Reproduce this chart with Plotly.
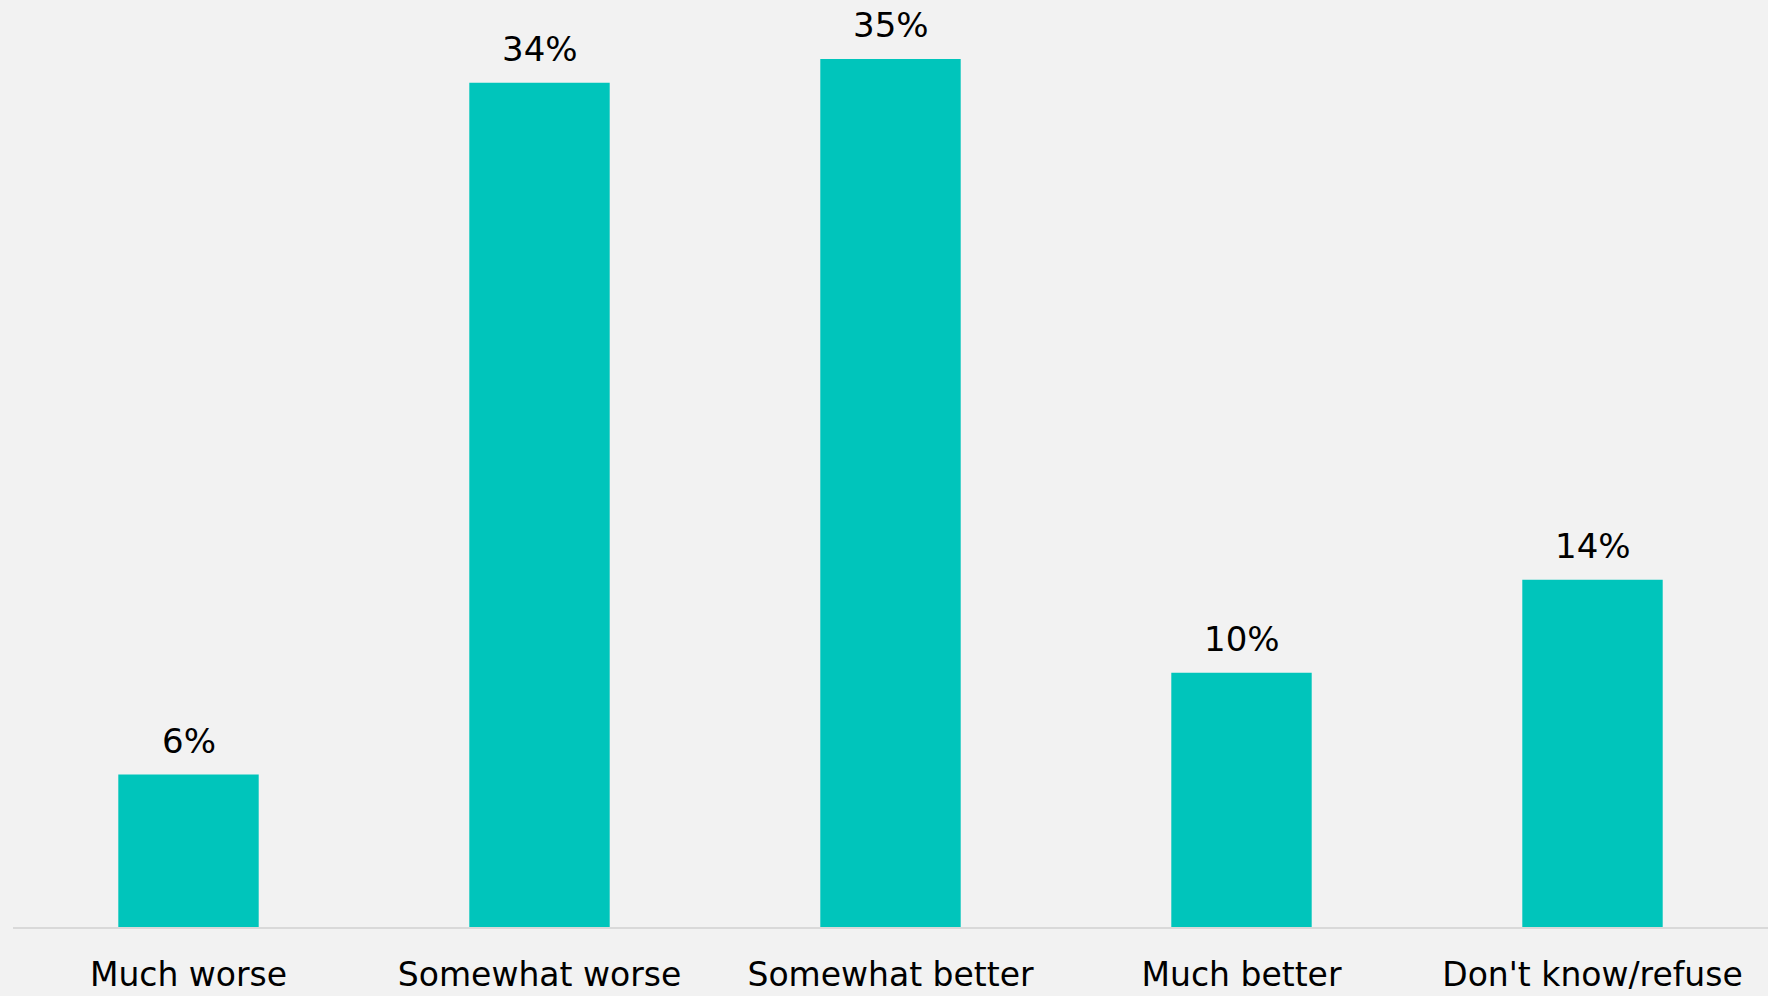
import plotly.graph_objects as go

categories = ["Much worse", "Somewhat worse", "Somewhat better", "Much better", "Don't know/refuse"]
values = [6.15, 34.05, 35.0, 10.25, 14.0]
labels = ["6%", "34%", "35%", "10%", "14%"]

BAR = "#00C5BB"
BG = "#F2F2F2"
FONT = "DejaVu Sans"

fig = go.Figure(go.Bar(
    x=categories,
    y=values,
    marker=dict(color=BAR, line=dict(width=0)),
    hoverinfo="skip",
))

for c, v, t in zip(categories, values, labels):
    fig.add_annotation(
        x=c, y=v, text=t, showarrow=False,
        xanchor="center", yanchor="bottom", yshift=12,
        font=dict(family=FONT, size=34, color="#000000"),
    )

fig.update_layout(
    width=1768,
    height=996,
    paper_bgcolor=BG,
    plot_bgcolor=BG,
    margin=dict(l=13, r=0, t=10, b=69),
    bargap=0.6,
    showlegend=False,
    font=dict(family=FONT, color="#000000"),
)
fig.update_xaxes(
    showline=True, linecolor="#D9D9D9", linewidth=2,
    tickfont=dict(family=FONT, size=33, color="#000000"),
    ticks="", showgrid=False, ticklabelstandoff=17,
)
fig.update_yaxes(
    range=[0, 36.98], visible=False, showgrid=False, zeroline=False,
)

fig.write_html("out.html", config={"displayModeBar": False},
               post_script="document.body.style.margin='0px';")
